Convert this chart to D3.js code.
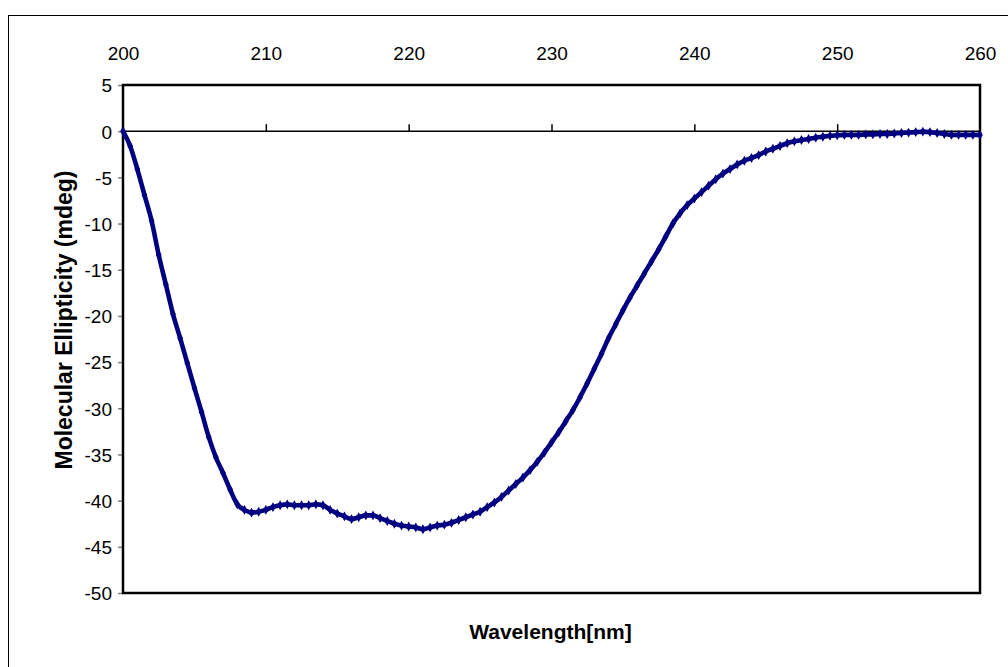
<!DOCTYPE html>
<html>
<head>
<meta charset="utf-8">
<script src="https://cdn.jsdelivr.net/npm/d3@7"></script>
<style>
  html, body { margin: 0; padding: 0; background: #fff; }
  svg { display: block; font-family: "Liberation Sans", Arial, sans-serif; }
</style>
</head>
<body>
<svg id="chart" width="1008" height="667"></svg>
<script>
// CD spectrum: wavelength (nm) and molecular ellipticity (mdeg), 0.5 nm steps
const wavelengths = d3.range(200, 260.001, 0.5);
const ellipticity = [
  0, -1.6, -4.1, -6.9, -9.7, -13.4, -16.6, -19.8, -22.4, -25.1,
  -27.8, -30.4, -33.1, -35.3, -37.0, -38.8, -40.4, -41.0, -41.3, -41.2,
  -41.0, -40.7, -40.5, -40.4, -40.5, -40.5, -40.5, -40.4, -40.5, -41.0,
  -41.4, -41.7, -42.0, -41.8, -41.6, -41.6, -41.9, -42.2, -42.5, -42.7,
  -42.8, -42.9, -43.1, -42.9, -42.7, -42.6, -42.4, -42.1, -41.8, -41.5,
  -41.2, -40.7, -40.2, -39.6, -38.9, -38.2, -37.5, -36.7, -35.8, -34.8,
  -33.7, -32.6, -31.4, -30.2, -28.8, -27.3, -25.7, -24.1, -22.4, -20.9,
  -19.4, -18.0, -16.7, -15.4, -14.1, -12.8, -11.4, -10.0, -8.9, -8.0,
  -7.3, -6.6, -5.9, -5.2, -4.6, -4.1, -3.6, -3.2, -2.9, -2.6,
  -2.2, -1.9, -1.6, -1.3, -1.1, -0.95, -0.85, -0.7, -0.6, -0.5,
  -0.45, -0.4, -0.4, -0.4, -0.35, -0.35, -0.3, -0.3, -0.25, -0.2,
  -0.15, -0.1, -0.05, -0.1, -0.2, -0.3, -0.4, -0.4, -0.4, -0.4,
  -0.4
];
const xTicks = [200, 210, 220, 230, 240, 250, 260];
const yTicks = [5, 0, -5, -10, -15, -20, -25, -30, -35, -40, -45, -50];

const data = wavelengths.map((w, i) => ({ w, v: ellipticity[i] }));

const svg = d3.select("#chart");
const plot = { left: 123, right: 980, top: 85, bottom: 593 };

const x = d3.scaleLinear().domain([200, 260]).range([plot.left, plot.right]);
const y = d3.scaleLinear().domain([-50, 5]).range([plot.bottom, plot.top]);

// plain hyphen-minus labels
const fmt = d => String(d);

// outer chart frame (right and bottom edges run past the canvas)
svg.append("rect")
  .attr("x", 8.5).attr("y", 15.5)
  .attr("width", 1010).attr("height", 660)
  .attr("fill", "none").attr("stroke", "#000").attr("stroke-width", 1);

// y axis ticks and labels
const yAxis = d3.axisLeft(y).tickValues(yTicks).tickSize(5).tickPadding(6).tickFormat(fmt);
const gy = svg.append("g").attr("transform", `translate(${plot.left},0)`).call(yAxis);
gy.select(".domain").remove();
gy.selectAll(".tick line").attr("stroke", "#808080").attr("stroke-width", 1.5);
gy.selectAll(".tick text")
  .attr("font-size", 19).attr("fill", "#000")
  .attr("font-family", "Liberation Sans, Arial, sans-serif")
  .attr("dy", "0.36em");

// x tick labels along the top
const xAxis = d3.axisTop(x).tickValues(xTicks).tickSize(0).tickPadding(0).tickFormat(fmt);
const gx = svg.append("g").attr("transform", "translate(0,60)").call(xAxis);
gx.select(".domain").remove();
gx.selectAll(".tick text")
  .attr("font-size", 19).attr("fill", "#000")
  .attr("font-family", "Liberation Sans, Arial, sans-serif")
  .attr("dy", 0);

// zero line with upward ticks
svg.append("line")
  .attr("x1", plot.left).attr("x2", plot.right)
  .attr("y1", y(0)).attr("y2", y(0))
  .attr("stroke", "#000").attr("stroke-width", 1.5);
const zeroAxis = d3.axisTop(x).tickValues(xTicks.slice(1, -1)).tickSize(7).tickFormat("");
const gz = svg.append("g").attr("transform", `translate(0,${y(0)})`).call(zeroAxis);
gz.select(".domain").remove();
gz.selectAll(".tick line").attr("stroke", "#000").attr("stroke-width", 1.5);

// plot area frame
svg.append("rect")
  .attr("x", plot.left).attr("y", plot.top)
  .attr("width", plot.right - plot.left).attr("height", plot.bottom - plot.top)
  .attr("fill", "none").attr("stroke", "#000").attr("stroke-width", 2.5);

// spectrum line with small markers
const line = d3.line().x(d => x(d.w)).y(d => y(d.v)).curve(d3.curveMonotoneX);
svg.append("path").datum(data)
  .attr("d", line)
  .attr("fill", "none").attr("stroke", "#000080")
  .attr("stroke-width", 4.6).attr("stroke-linejoin", "round");
svg.append("g").selectAll("path").data(data).enter().append("path")
  .attr("d", d3.symbol(d3.symbolDiamond, 28))
  .attr("transform", d => `translate(${x(d.w)},${y(d.v)})`)
  .attr("fill", "#000080");

// axis titles
svg.append("text")
  .attr("x", (plot.left + plot.right) / 2 - 1).attr("y", 639)
  .attr("text-anchor", "middle").attr("font-weight", "bold").attr("font-size", 21)
  .text("Wavelength[nm]");
svg.append("text")
  .attr("transform", "translate(72,320) rotate(-90)")
  .attr("text-anchor", "middle").attr("font-weight", "bold").attr("font-size", 23)
  .text("Molecular Ellipticity (mdeg)");
</script>
</body>
</html>
